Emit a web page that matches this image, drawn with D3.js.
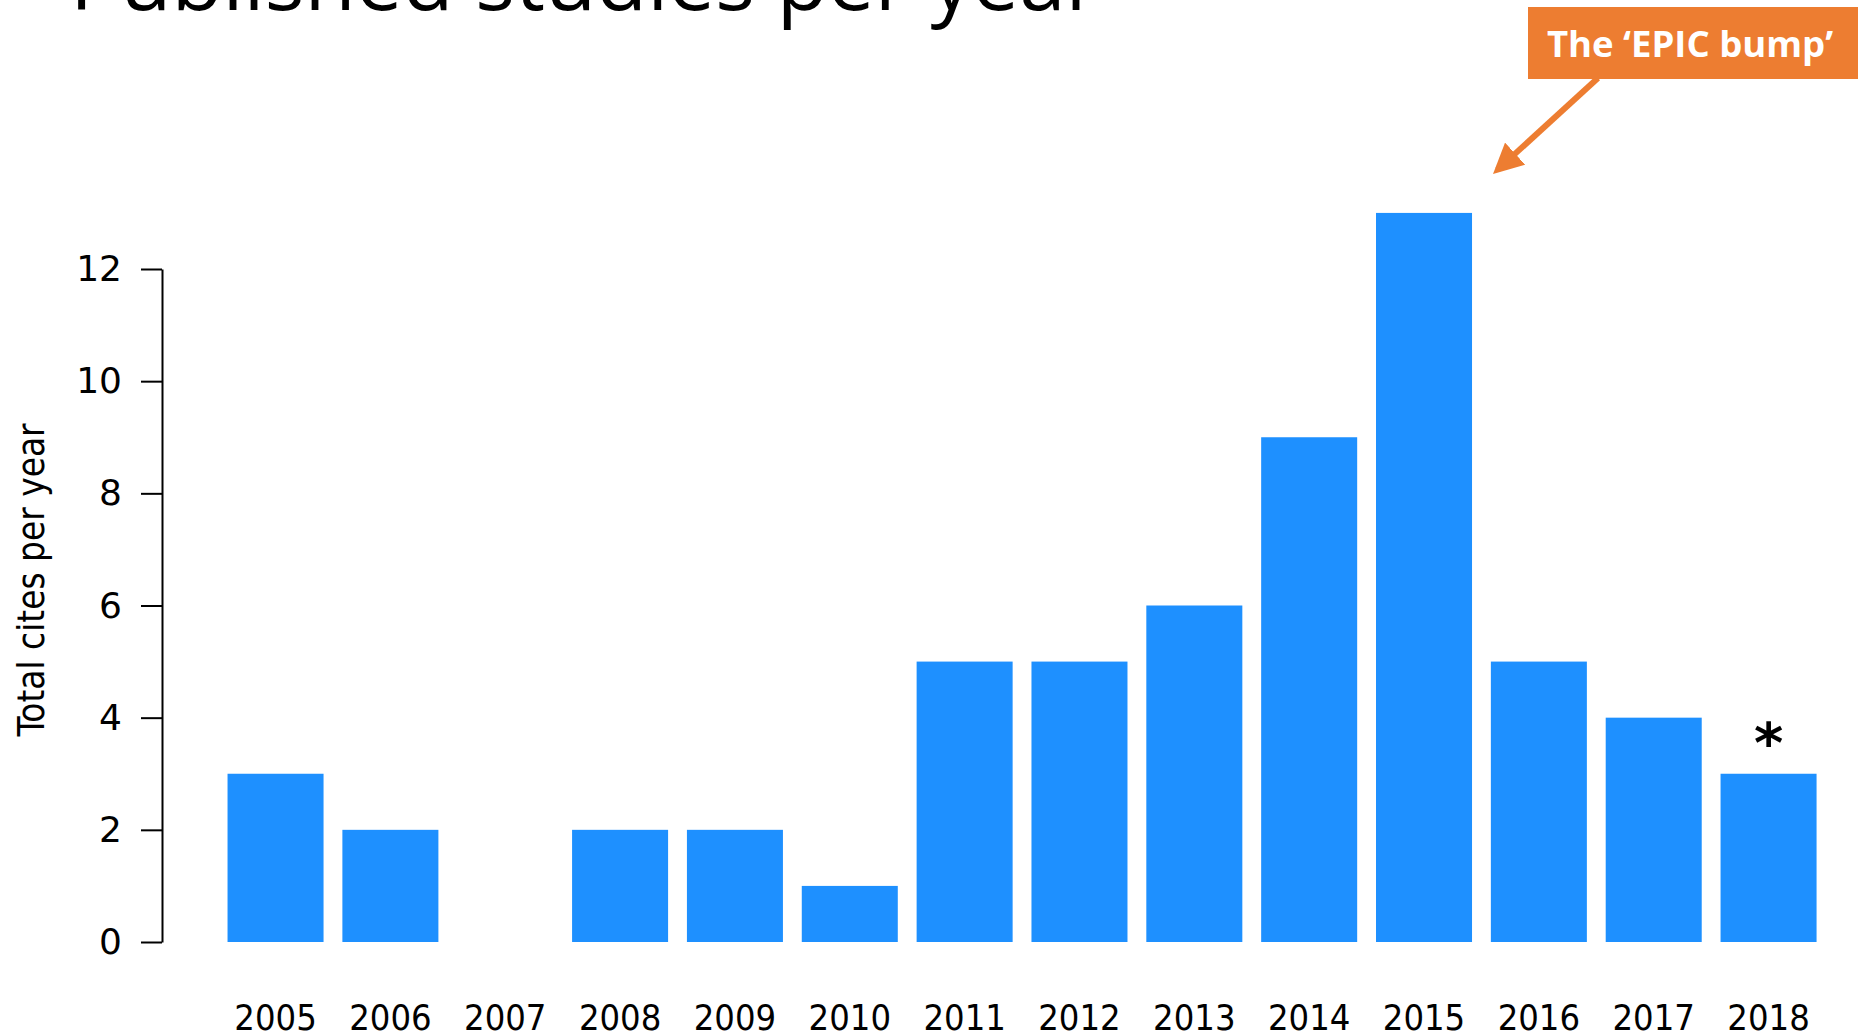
<!DOCTYPE html>
<html>
<head>
<meta charset="utf-8">
<script src="https://cdn.jsdelivr.net/npm/d3@7"></script>
<style>
  body { margin: 0; background: #fff; }
  svg { display: block; }
</style>
</head>
<body>
<svg id="chart" width="1858" height="1034"></svg>
<script>
// Published studies per year - bar chart with annotation

const years = ["2005", "2006", "2007", "2008", "2009", "2010", "2011",
               "2012", "2013", "2014", "2015", "2016", "2017", "2018"];
const cites = [3, 2, 0, 2, 2, 1, 5, 5, 6, 9, 13, 5, 4, 3];
const yTicks = [0, 2, 4, 6, 8, 10, 12];
const titleText = "Published studies per year";
const yLabel = "Total cites per year";
const noteText = "The \u2018EPIC bump\u2019";
const noteYear = "2015";
const starYear = "2018";

const svg = d3.select("#chart");
const barColor = "#1e90ff";
const orange = "#ed7d31";

const xScale = d3.scaleBand()
  .domain(years)
  .range([208.7, 1835.4])
  .padding(0.164);

const yScale = d3.scaleLinear()
  .domain([0, 12])
  .range([942, 269]);

// title, cut off at the top of the slide
svg.append("text")
  .attr("x", 70)
  .attr("y", 10)
  .style("font-family", "'Open Sans', sans-serif")
  .style("font-size", "83.5px")
  .style("fill", "#000")
  .text(titleText);

// bars
svg.append("g")
  .selectAll("rect")
  .data(years.map((y, i) => ({ year: y, value: cites[i] })).filter(d => d.value > 0))
  .enter()
  .append("rect")
  .attr("x", d => xScale(d.year))
  .attr("y", d => yScale(d.value))
  .attr("width", xScale.bandwidth())
  .attr("height", d => yScale(0) - yScale(d.value))
  .attr("fill", barColor);

// y axis
const yAxis = d3.axisLeft(yScale)
  .tickValues(yTicks)
  .tickSize(21)
  .tickPadding(19)
  .tickSizeOuter(0);

const yg = svg.append("g")
  .attr("transform", "translate(162,0)")
  .call(yAxis);
yg.select(".domain").attr("stroke-width", 2);
yg.selectAll(".tick line").attr("stroke-width", 2);
yg.selectAll(".tick text")
  .style("font-family", "'DejaVu Sans', sans-serif")
  .style("font-size", "36px")
  .attr("fill", "#000");

// x labels (no axis line)
const xAxis = d3.axisBottom(xScale).tickSize(0).tickPadding(0);
const xg = svg.append("g")
  .attr("transform", "translate(0,1001)")
  .call(xAxis);
xg.select(".domain").remove();
xg.selectAll(".tick text")
  .attr("dy", "0.8em")
  .style("font-family", "'DejaVu Sans Condensed', 'DejaVu Sans', sans-serif")
  .style("font-stretch", "condensed")
  .style("font-size", "36px")
  .attr("fill", "#000");

// y axis title
svg.append("text")
  .attr("transform", "translate(44,580) rotate(-90)")
  .style("text-anchor", "middle")
  .style("font-family", "'DejaVu Sans Condensed', 'DejaVu Sans', sans-serif")
  .style("font-stretch", "condensed")
  .style("font-size", "36.6px")
  .text(yLabel);

// asterisk on the last year
svg.append("text")
  .attr("x", xScale(starYear) + xScale.bandwidth() / 2)
  .attr("y", yScale(cites[years.indexOf(starYear)]) - 12)
  .style("text-anchor", "middle")
  .style("font-family", "'DejaVu Sans', sans-serif")
  .style("font-weight", "bold")
  .style("font-size", "56px")
  .text("*");

// annotation box + arrow
svg.append("defs").append("marker")
  .attr("id", "head")
  .attr("viewBox", "0 0 10 10")
  .attr("refX", 8)
  .attr("refY", 5)
  .attr("markerWidth", 5)
  .attr("markerHeight", 5)
  .attr("orient", "auto")
  .append("path")
  .attr("d", "M0,0 L10,5 L0,10 Z")
  .attr("fill", orange);

const startX = 1598, startY = 78;
const tipX = xScale(noteYear) + xScale.bandwidth() + 21;
const tipY = yScale(cites[years.indexOf(noteYear)]) - 39;
const len = Math.hypot(tipX - startX, tipY - startY);
const ux = (tipX - startX) / len, uy = (tipY - startY) / len;

svg.append("line")
  .attr("x1", startX)
  .attr("y1", startY)
  .attr("x2", tipX - 6 * ux)
  .attr("y2", tipY - 6 * uy)
  .attr("stroke", orange)
  .attr("stroke-width", 6)
  .attr("marker-end", "url(#head)");

svg.append("rect")
  .attr("x", 1528)
  .attr("y", 7)
  .attr("width", 340)
  .attr("height", 72)
  .attr("fill", orange);

svg.append("text")
  .attr("x", 1690)
  .attr("y", 57)
  .style("text-anchor", "middle")
  .style("font-family", "'Open Sans', sans-serif")
  .style("font-weight", "bold")
  .style("font-size", "36.5px")
  .style("fill", "#fff")
  .text(noteText);
</script>
</body>
</html>
